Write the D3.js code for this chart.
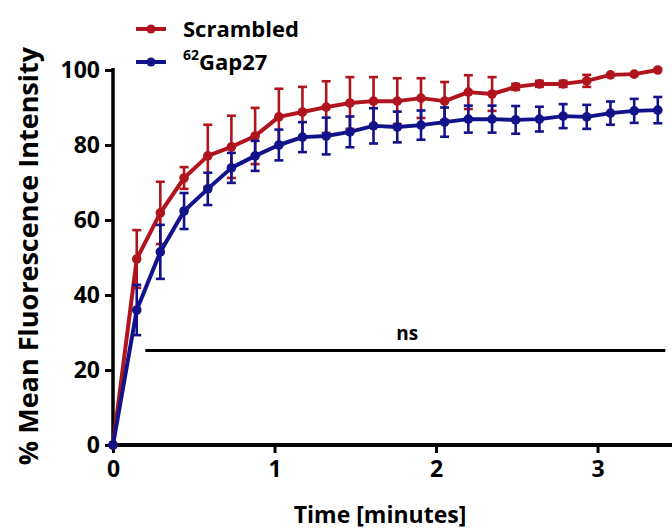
<!DOCTYPE html>
<html>
<head>
<meta charset="utf-8">
<script src="https://cdn.jsdelivr.net/npm/d3@7"></script>
<style>
  html, body { margin: 0; padding: 0; background: #fff; }
  svg { display: block; font-family: "Open Sans", "DejaVu Sans", sans-serif; font-weight: 700; }
</style>
</head>
<body>
<svg id="chart" width="672" height="529"></svg>
<script>
// Sampling times (minutes)
const timeMin = [0, 0.147, 0.293, 0.44, 0.587, 0.733, 0.88, 1.027, 1.173, 1.32, 1.467, 1.613,
                 1.76, 1.907, 2.053, 2.2, 2.347, 2.493, 2.64, 2.787, 2.933, 3.08, 3.227, 3.373];

// Scrambled peptide: mean % fluorescence and error
const scrambledMean = [0, 49.6, 61.9, 71.2, 77.1, 79.5, 82.4, 87.5, 88.8, 90.1, 91.2, 91.7,
                       91.7, 92.5, 91.7, 94.1, 93.6, 95.5, 96.3, 96.3, 97.1, 98.7, 98.9, 100];
const scrambledErr  = [0, 7.7, 8.3, 2.9, 8.3, 8.3, 7.5, 7.5, 6.7, 6.9, 6.9, 6.4,
                       6.1, 5.3, 5.1, 4.5, 4.5, 0.8, 0.8, 0.8, 1.6, 0, 0, 0];

// 62Gap27: mean % fluorescence and error
const gapMean = [0, 36.0, 51.5, 62.4, 68.3, 73.9, 77.1, 80.0, 82.1, 82.4, 83.5, 85.1,
                 84.8, 85.3, 86.1, 86.9, 86.9, 86.7, 86.9, 87.7, 87.5, 88.5, 89.1, 89.3];
const gapErr  = [0, 6.7, 7.2, 4.8, 4.3, 4.0, 4.0, 4.1, 4.0, 4.9, 4.1, 4.7,
                 4.1, 3.9, 3.9, 3.6, 3.6, 3.7, 3.3, 3.2, 3.2, 3.1, 3.2, 3.5];

// Axis ticks
const xTicks = [0, 1, 2, 3];
const yTicks = [0, 20, 40, 60, 80, 100];

// Significance bracket
const sigLabel = "ns";
const sigFrom = 0.2, sigTo = 3.42, sigLevel = 25.2;

const seriesDefs = [
  { name: "Scrambled", sup: "", mean: scrambledMean, err: scrambledErr, color: "#b0141d" },
  { name: "Gap27", sup: "62", mean: gapMean, err: gapErr, color: "#12128a" }
];

const svg = d3.select("#chart");

const x = d3.scaleLinear().domain([0, 3.461]).range([113, 672]);
const y = d3.scaleLinear().domain([0, 100]).range([445, 70]);

// Axes
const yAxis = svg.append("g")
  .attr("transform", `translate(${x(0)},0)`)
  .call(d3.axisLeft(y).tickValues(yTicks).tickFormat(d3.format("d"))
    .tickSize(8).tickPadding(5).tickSizeOuter(0));
yAxis.select(".domain").attr("stroke", "#000").attr("stroke-width", 3.5)
  .attr("d", `M0,${y(100) - 2}V${y(0)}`);
yAxis.selectAll(".tick line").attr("stroke", "#000").attr("stroke-width", 3);
yAxis.selectAll(".tick text").attr("font-size", 23).attr("font-weight", 700)
  .attr("fill", "#000").attr("font-family", "'Open Sans', sans-serif");

const xAxis = svg.append("g")
  .attr("transform", `translate(0,${y(0)})`)
  .call(d3.axisBottom(x).tickValues(xTicks).tickFormat(d3.format("d"))
    .tickSize(8).tickPadding(8).tickSizeOuter(0));
xAxis.select(".domain").attr("stroke", "#000").attr("stroke-width", 4)
  .attr("d", `M${x(0) - 2},0H672`);
xAxis.selectAll(".tick line").attr("stroke", "#000").attr("stroke-width", 3);
xAxis.selectAll(".tick text").attr("font-size", 23).attr("font-weight", 700)
  .attr("fill", "#000").attr("font-family", "'Open Sans', sans-serif");

// Axis titles
svg.append("text")
  .attr("x", 380).attr("y", 523)
  .attr("text-anchor", "middle")
  .attr("font-size", 23)
  .text("Time [minutes]");

svg.append("text")
  .attr("transform", "translate(38,256) rotate(-90)")
  .attr("text-anchor", "middle")
  .attr("font-size", 27)
  .text("% Mean Fluorescence Intensity");

// Significance line and label
svg.append("line")
  .attr("x1", x(sigFrom)).attr("x2", x(sigTo))
  .attr("y1", y(sigLevel)).attr("y2", y(sigLevel))
  .attr("stroke", "#000").attr("stroke-width", 3);
svg.append("text")
  .attr("x", (x(sigFrom) + x(sigTo)) / 2 + 2).attr("y", y(sigLevel) - 11)
  .attr("text-anchor", "middle")
  .attr("font-size", 19)
  .text(sigLabel);

// Series: error bars, line, markers
const line = d3.line().x((d, i) => x(timeMin[i])).y(d => y(d));
const capHalf = 4.5;

seriesDefs.forEach(s => {
  const g = svg.append("g").attr("class", "series");
  const bars = g.selectAll("g.err")
    .data(s.mean.map((m, i) => ({ t: timeMin[i], m, e: s.err[i] })).filter(d => d.e > 0))
    .join("g").attr("class", "err")
    .attr("stroke", s.color).attr("stroke-width", 2.6);
  bars.append("line")
    .attr("x1", d => x(d.t)).attr("x2", d => x(d.t))
    .attr("y1", d => y(d.m + d.e)).attr("y2", d => y(d.m - d.e));
  bars.append("line")
    .attr("x1", d => x(d.t) - capHalf).attr("x2", d => x(d.t) + capHalf)
    .attr("y1", d => y(d.m + d.e)).attr("y2", d => y(d.m + d.e));
  bars.append("line")
    .attr("x1", d => x(d.t) - capHalf).attr("x2", d => x(d.t) + capHalf)
    .attr("y1", d => y(d.m - d.e)).attr("y2", d => y(d.m - d.e));

  g.append("path")
    .datum(s.mean)
    .attr("d", line)
    .attr("fill", "none")
    .attr("stroke", s.color)
    .attr("stroke-width", 4)
    .attr("stroke-linejoin", "round");

  g.selectAll("circle")
    .data(s.mean)
    .join("circle")
    .attr("cx", (d, i) => x(timeMin[i]))
    .attr("cy", d => y(d))
    .attr("r", 4.8)
    .attr("fill", s.color);
});

// Legend
const legend = svg.append("g");
seriesDefs.forEach((s, i) => {
  const ly = 29 + i * 33;
  legend.append("line")
    .attr("x1", 136).attr("x2", 166).attr("y1", ly).attr("y2", ly)
    .attr("stroke", s.color).attr("stroke-width", 4);
  legend.append("circle")
    .attr("cx", 151).attr("cy", ly).attr("r", 4.5).attr("fill", s.color);
  const t = legend.append("text")
    .attr("x", 183).attr("y", ly + 8)
    .attr("font-size", 22);
  if (s.sup) {
    t.append("tspan").attr("font-size", 14).attr("dy", -10).text(s.sup);
    t.append("tspan").attr("dy", 10).text(s.name);
  } else {
    t.text(s.name);
  }
});
</script>
</body>
</html>
